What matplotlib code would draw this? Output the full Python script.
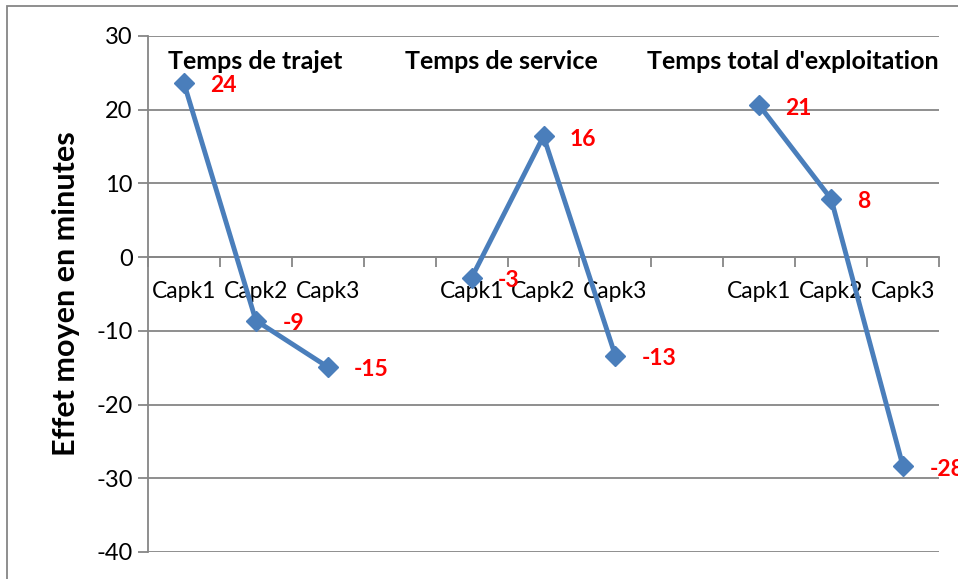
import numpy as np
import matplotlib.pyplot as plt
from matplotlib.patches import Rectangle

plt.rcParams['font.family'] = ['Lato', 'DejaVu Sans']
plt.rcParams['axes.unicode_minus'] = False

# three groups of three capacities, with an empty slot between groups
groups = ["Temps de trajet", "Temps de service", "Temps total d'exploitation"]
capacities = ["Capk1", "Capk2", "Capk3"]
trajet = [23.6, -8.6, -14.9]
service = [-2.8, 16.4, -13.4]
total = [20.6, 7.9, -28.4]

categories = capacities + [""] + capacities + [""] + capacities
values = np.array(trajet + [np.nan] + service + [np.nan] + total)
x = np.arange(len(categories))

grey = "#868686"
blue = "#4A7EBB"

fig = plt.figure(figsize=(9.58, 5.79), dpi=100)
ax = fig.add_axes([148 / 958, 1 - 552 / 579, (939 - 148) / 958, (552 - 36) / 579])

ax.set_xlim(-0.5, len(categories) - 0.5)
ax.set_ylim(-40, 30)
ax.set_yticks(np.arange(-40, 31, 10))
ax.yaxis.grid(True, color=grey, linewidth=1.3)
ax.set_axisbelow(True)

# category axis crosses at zero, ticks between categories
ax.spines['bottom'].set_position(('data', 0))
for side in ['top', 'right']:
    ax.spines[side].set_visible(False)
for side in ['left', 'bottom']:
    ax.spines[side].set_color(grey)
    ax.spines[side].set_linewidth(1.3)

ax.set_xticks(np.arange(-0.5, len(categories)), labels=[])
ax.set_xticks(x, labels=categories, minor=True)
ax.tick_params(axis='x', which='major', direction='out', length=7, width=1.3, color=grey)
ax.tick_params(axis='x', which='minor', length=0, pad=17, labelsize=16.5)
ax.tick_params(axis='y', direction='out', length=7, width=1.3, color=grey, labelsize=17, pad=4)

ax.plot(x, values, color=blue, linewidth=3.5, marker='D', markersize=10, zorder=3)

for xi, v in zip(x, values):
    if np.isnan(v):
        continue
    ax.annotate(f"{v:.0f}", (xi, v), xytext=(19, -2), textcoords='offset points',
                ha='left', va='center', color='red', fontweight='bold', fontsize=16.5,
                annotation_clip=False)

title_x = [-0.22, 3.07, 6.44]
for tx, name in zip(title_x, groups):
    ax.text(tx, 26.6, name, ha='left', va='center', fontweight='bold', fontsize=18)

ax.set_ylabel("Effet moyen en minutes", fontweight='bold', fontsize=22, labelpad=12)

# chart area frame
fig.patches.append(Rectangle((7 / 958, -0.1), 1.2, (579 - 6) / 579 + 0.1,
                             transform=fig.transFigure, fill=False,
                             edgecolor=grey, linewidth=1.3))

fig.savefig("out.png", dpi=100)
